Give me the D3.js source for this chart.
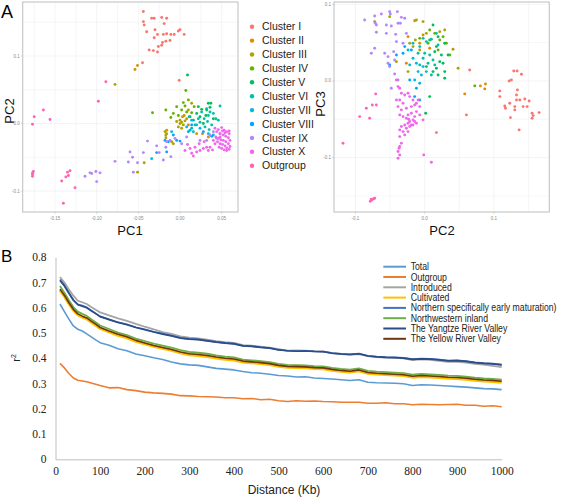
<!DOCTYPE html>
<html><head><meta charset="utf-8">
<script src="https://cdn.jsdelivr.net/npm/d3@7"></script>
<style>body{margin:0;background:#fff}svg{display:block}</style>
</head><body>
<svg id="c" width="567" height="497"></svg>
<script>
// ---------- Panel A data ----------
const clusters = ["Cluster I","Cluster II","Cluster III","Cluster IV","Cluster V","Cluster VI","Cluster VII","Cluster VIII","Cluster IX","Cluster X","Outgroup"];
const clusterColors = ["#F8766D","#DB8E00","#AEA200","#64B200","#00BD5C","#00C1A7","#00BADE","#00A6FF","#B385FF","#EF67EB","#FF63B6"];

// PC1 vs PC2 : [PC1, PC2, cluster index]
const pointsPC1PC2 = [
[-0.044,0.166,0],[-0.044,0.151,0],[-0.043,0.146,0],[-0.034,0.156,0],[-0.031,0.156,0],[-0.022,0.157,0],[-0.016,0.156,0],[-0.019,0.148,0],[-0.040,0.136,0],[-0.030,0.139,0],[-0.027,0.132,0],[-0.020,0.132,0],[-0.016,0.133,0],[-0.011,0.132,0],[-0.007,0.132,0],[-0.002,0.137,0],[0.000,0.139,0],[0.005,0.132,0],[-0.031,0.127,0],[-0.012,0.123,0],[-0.017,0.122,0],[-0.021,0.120,0],[-0.022,0.116,0],[-0.026,0.114,0],[-0.037,0.109,0],[-0.032,0.108,0],[-0.027,0.106,0],[-0.001,0.064,0],[-0.045,0.090,0],
[-0.054,0.080,1],[-0.051,0.086,1],[0.020,-0.015,1],[0.027,-0.015,1],[0.034,-0.020,1],[0.003,0.010,1],[0.008,0.007,1],[-0.016,-0.010,1],[0.010,-0.002,1],
[-0.078,0.058,2],[-0.018,-0.012,2],[-0.017,-0.017,2],[-0.016,-0.015,2],[-0.017,-0.021,2],[0.000,0.000,2],[0.002,0.002,2],[0.004,-0.002,2],[-0.002,-0.005,2],[0.002,-0.007,2],[0.000,0.005,2],[0.006,0.004,2],[-0.010,-0.027,2],[-0.008,-0.030,2],[-0.043,-0.058,2],[-0.051,-0.072,2],[0.005,0.012,2],[-0.004,0.003,2],[0.010,0.020,2],[0.014,0.030,2],
[0.007,0.049,3],[0.010,0.035,3],[-0.004,0.025,3],[-0.017,0.020,3],[-0.008,0.015,3],[0.002,0.020,3],[0.017,0.025,3],[0.014,0.016,3],[0.008,0.017,3],[-0.002,0.012,3],[0.006,0.026,3],[-0.033,0.016,3],[-0.011,0.009,3],[0.004,0.031,3],
[0.009,0.072,4],[0.020,0.015,4],[0.024,0.010,4],[0.032,0.020,4],[0.034,0.030,4],[0.037,0.030,4],[0.031,0.012,4],[0.040,0.007,4],[0.028,0.000,4],[0.016,0.005,4],[0.022,0.025,4],[0.012,0.010,4],[0.036,0.024,4],[0.026,0.021,4],
[0.048,0.026,5],[0.032,0.022,5],[0.036,0.017,5],[0.026,0.017,5],[0.022,0.007,5],[0.029,0.007,5],[0.034,0.012,5],[0.040,0.015,5],[0.024,0.002,5],[0.018,-0.002,5],[0.014,-0.007,5],[0.030,-0.005,5],[0.035,-0.009,5],[0.038,-0.002,5],[0.011,0.010,5],[0.043,0.007,5],[0.046,0.005,5],[0.033,0.003,5],
[-0.034,-0.052,6],[0.012,-0.010,6],[0.016,-0.012,6],[0.024,-0.007,6],[0.020,-0.002,6],[0.008,-0.005,6],[0.034,-0.015,6],[0.040,-0.017,6],[0.014,0.005,6],[-0.010,-0.012,6],
[-0.018,-0.025,7],[-0.014,-0.027,7],[-0.008,-0.017,7],[-0.004,-0.025,7],[0.010,-0.012,7],[0.014,-0.002,7],[0.028,-0.012,7],[0.038,-0.019,7],[0.000,-0.026,7],[-0.028,-0.043,7],[-0.016,-0.042,7],
[-0.114,-0.078,8],[-0.108,-0.073,8],[-0.106,-0.074,8],[-0.101,-0.071,8],[-0.096,-0.073,8],[-0.100,-0.086,8],[-0.078,-0.056,8],[-0.062,-0.057,8],[-0.057,-0.050,8],[-0.060,-0.042,8],[-0.051,-0.058,8],[-0.056,-0.072,8],[-0.044,-0.043,8],[-0.039,-0.026,8],[-0.028,-0.033,8],[-0.025,-0.043,8],[-0.020,-0.054,8],[-0.017,-0.035,8],[-0.011,-0.049,8],[-0.016,-0.027,8],[0.036,-0.017,8],[0.040,-0.012,8],[0.044,-0.022,8],[0.048,-0.015,8],[0.024,-0.025,8],[0.032,-0.025,8],[-0.012,-0.025,8],[-0.006,-0.022,8],[0.002,-0.030,8],[0.008,-0.020,8],
[0.042,-0.007,9],[0.046,-0.009,9],[0.050,-0.006,9],[0.053,-0.010,9],[0.056,-0.012,9],[0.059,-0.015,9],[0.044,-0.012,9],[0.048,-0.015,9],[0.052,-0.017,9],[0.055,-0.019,9],[0.058,-0.021,9],[0.060,-0.025,9],[0.043,-0.020,9],[0.046,-0.022,9],[0.049,-0.024,9],[0.052,-0.025,9],[0.055,-0.027,9],[0.058,-0.030,9],[0.060,-0.034,9],[0.045,-0.027,9],[0.048,-0.030,9],[0.051,-0.031,9],[0.054,-0.033,9],[0.056,-0.036,9],[0.059,-0.038,9],[0.047,-0.035,9],[0.050,-0.037,9],[0.053,-0.039,9],[0.056,-0.040,9],[0.042,-0.030,9],[0.040,-0.025,9],[0.036,-0.035,9],[0.032,-0.035,9],[0.028,-0.037,9],[0.024,-0.040,9],[0.020,-0.042,9],[0.018,-0.035,9],[0.014,-0.044,9],[0.012,-0.037,9],[0.023,-0.030,9],[0.029,-0.027,9],[0.034,-0.040,9],[0.039,-0.039,9],[0.016,-0.048,9],[0.009,-0.031,9],[0.006,-0.040,9],[0.048,-0.020,9],[0.054,-0.014,9],[0.059,-0.011,9],[0.051,-0.011,9],
[-0.164,0.020,10],[-0.175,0.010,10],[-0.156,0.006,10],[-0.177,-0.001,10],[-0.177,-0.073,10],[-0.177,-0.075,10],[-0.177,-0.078,10],[-0.176,-0.071,10],[-0.132,-0.070,10],[-0.135,-0.072,10],[-0.134,-0.077,10],[-0.137,-0.079,10],[-0.142,-0.085,10],[-0.126,-0.095,10],[-0.140,-0.118,10],[-0.089,0.062,10],[-0.098,0.033,10]
];

// PC2 vs PC3 : [PC2, PC3, cluster index]
const pointsPC2PC3 = [
[0.1286,0.0130,0],[0.1334,0.0130,0],[0.1397,0.0087,0],[0.1219,0.0000,0],[0.1252,0.0013,0],[0.1084,-0.0130,0],[0.1084,-0.0204,0],[0.1156,-0.0326,0],[0.1166,-0.0356,0],[0.1228,-0.0291,0],[0.1301,-0.0335,0],[0.1325,-0.0183,0],[0.1325,-0.0248,0],[0.1339,-0.0117,0],[0.1373,-0.0248,0],[0.1445,-0.0235,0],[0.1508,-0.0261,0],[0.1421,-0.0335,0],[0.1479,-0.0335,0],[0.1551,-0.0422,0],[0.1551,-0.0487,0],[0.1566,-0.0452,0],[0.1652,-0.0413,0],[0.1238,-0.0478,0],[0.1363,-0.0639,0],[0.0650,0.0143,0],[0.0602,-0.0443,0],[0.1301,-0.0378,0],[0.0169,-0.0674,0],
[-0.0145,0.0786,1],[-0.0241,0.0578,1],[-0.0072,0.0491,1],[0.0578,-0.0169,1],[0.0804,-0.0065,1],[0.0877,-0.0039,1],[0.0867,-0.0104,1],[-0.0265,0.0230,1],[-0.0024,0.0600,1],[0.0072,0.0426,1],
[-0.0723,0.0774,2],[-0.0506,0.0839,2],[-0.0120,0.0795,2],[-0.0024,0.0774,2],[0.0289,0.0665,2],[0.0217,0.0643,2],[-0.0135,0.0535,2],[-0.0217,0.0491,2],[-0.0072,0.0404,2],[0.0409,0.0413,2],[0.0482,0.0165,2],[-0.0169,0.0448,2],[-0.0409,0.0252,2],[-0.0241,0.0122,2],[0.0024,0.0621,2],
[0.0723,-0.0065,3],[0.0361,0.0339,3],[0.0217,0.0535,3],[0.0072,0.0665,3],[0.0145,0.0621,3],[0.0265,0.0578,3],[0.0193,0.0404,3],[-0.0072,0.0556,3],[0.0048,0.0491,3],[0.0313,0.0491,3],
[0.0120,0.0730,4],[0.0193,0.0578,4],[0.0289,0.0491,4],[0.0169,0.0448,4],[0.0072,0.0535,4],[0.0145,0.0382,4],[0.0241,0.0339,4],[0.0265,0.0230,4],[0.0289,0.0122,4],[0.0289,0.0035,4],[0.0193,0.0078,4],[0.0120,0.0122,4],[0.0072,-0.0204,4],[0.0014,-0.0422,4],[0.0169,0.0165,4],[0.0217,0.0252,4],[0.0337,0.0339,4],[0.0024,0.0187,4],
[-0.0024,0.0556,5],[0.0024,0.0513,5],[0.0096,0.0543,5],[-0.0072,0.0448,5],[0.0000,0.0361,5],[0.0072,0.0339,5],[0.0120,0.0274,5],[0.0048,0.0230,5],[-0.0024,0.0296,5],[-0.0072,0.0209,5],[0.0024,0.0122,5],[0.0096,0.0078,5],[0.0145,0.0209,5],[0.0169,0.0621,5],[-0.0096,0.0361,5],[0.0193,0.0469,5],
[-0.0241,0.0404,6],[-0.0169,0.0296,6],[-0.0120,0.0230,6],[-0.0048,0.0078,6],[-0.0096,0.0122,6],[-0.0145,0.0013,6],[-0.0072,-0.0030,6],[-0.0217,0.0209,6],[-0.0024,0.0187,6],[-0.0169,0.0491,6],
[-0.0506,0.0209,7],[-0.0409,0.0339,7],[-0.0289,0.0448,7],[-0.0193,0.0404,7],[-0.0120,-0.0096,7],[-0.0145,-0.0204,7],[-0.0072,-0.0248,7],[-0.0217,0.0013,7],[-0.0313,0.0361,7],
[-0.0867,0.0795,8],[-0.0723,0.0847,8],[-0.0713,0.0752,8],[-0.0626,0.0874,8],[-0.0506,0.0904,8],[-0.0496,0.0874,8],[-0.0395,0.0904,8],[-0.0337,0.0830,8],[-0.0289,0.0817,8],[-0.0554,0.0730,8],[-0.0482,0.0717,8],[-0.0698,0.0635,8],[-0.0554,0.0621,8],[-0.0419,0.0608,8],[-0.0409,0.0513,8],[-0.0771,0.0361,8],[-0.0723,0.0426,8],[-0.0578,0.0361,8],[-0.0530,0.0230,8],[-0.0506,0.0187,8],[-0.0434,0.0091,8],[-0.0385,0.0013,8],[-0.0482,-0.0096,8],[-0.0448,0.0382,8],[-0.0530,0.0317,8],[-0.0385,0.0752,8],[-0.0352,0.0752,8],[-0.0265,0.0621,8],[-0.0313,0.0491,8],[-0.0434,0.0274,8],[-0.0698,0.0730,8],
[-0.0409,0.0013,9],[-0.0385,-0.0074,9],[-0.0361,-0.0096,9],[-0.0337,-0.0161,9],[-0.0289,-0.0183,9],[-0.0241,-0.0161,9],[-0.0217,-0.0204,9],[-0.0169,-0.0248,9],[-0.0120,-0.0291,9],[-0.0072,-0.0335,9],[-0.0096,-0.0248,9],[-0.0145,-0.0313,9],[-0.0193,-0.0335,9],[-0.0265,-0.0356,9],[-0.0313,-0.0291,9],[-0.0337,-0.0378,9],[-0.0361,-0.0443,9],[-0.0313,-0.0465,9],[-0.0265,-0.0487,9],[-0.0217,-0.0530,9],[-0.0241,-0.0552,9],[-0.0193,-0.0574,9],[-0.0145,-0.0530,9],[-0.0169,-0.0574,9],[-0.0120,-0.0552,9],[-0.0289,-0.0574,9],[-0.0337,-0.0595,9],[-0.0361,-0.0639,9],[-0.0313,-0.0661,9],[-0.0265,-0.0617,9],[-0.0217,-0.0595,9],[-0.0241,-0.0661,9],[-0.0289,-0.0704,9],[-0.0361,-0.0726,9],[-0.0337,-0.0813,9],[-0.0361,-0.0856,9],[-0.0385,-0.0921,9],[-0.0361,-0.0965,9],[-0.0385,-0.1008,9],[-0.0371,-0.0878,9],[-0.0072,-0.0443,9],[-0.0120,-0.0400,9],[-0.0193,-0.0422,9],[-0.0241,-0.0443,9],[-0.0409,-0.0248,9],[-0.0361,-0.0248,9],[-0.0385,-0.0335,9],[-0.0024,-0.0508,9],[-0.0014,-0.0965,9],[0.0096,-0.1060,9],[-0.0169,-0.0508,9],[-0.0231,-0.0500,9],[-0.0145,-0.0465,9],
[-0.1180,-0.0813,10],[-0.0939,-0.0465,10],[-0.0795,-0.0487,10],[-0.0843,-0.0356,10],[-0.0756,-0.0313,10],[-0.0698,-0.0313,10],[-0.0708,-0.0169,10],[-0.0785,-0.1570,10],[-0.0761,-0.1550,10],[-0.0737,-0.1538,10],[-0.0771,-0.1543,10],[-0.0723,-0.1530,10]
];

const pc1Ticks = [-0.15,-0.10,-0.05,0.00,0.05];
const pc1TickLabels = ["-0.15","-0.10","-0.05","0.00","0.05"];
const pc2TicksA = [-0.1,0.0,0.1];
const pc2TickLabelsA = ["-0.1","0.0","0.1"];
const pc2TicksB = [-0.1,0.0,0.1];
const pc2TickLabelsB = ["-0.1","0.0","0.1"];
const pc3Ticks = [-0.1,0.0,0.1];
const pc3TickLabels = ["-0.1","0.0","0.1"];

// ---------- Panel B data ----------
const distances = [10,20,30,40,50,60,70,80,90,100,120,140,160,180,200,220,240,260,280,300,320,340,360,380,400,420,440,460,480,500,520,540,560,580,600,620,640,660,680,700,720,740,760,780,800,820,840,860,880,900,920,940,960,980,1000];
const seriesNames = ["Total","Outgroup","Introduced","Cultivated","Northern specifically early maturation)","Northwestern inland","The Yangtze River Valley","The Yellow River Valley"];
const seriesColors = ["#5B9BD5","#ED7D31","#A5A5A5","#FFC000","#4472C4","#70AD47","#2B4C86","#6E3510"];
const total = [0.615,0.585,0.555,0.528,0.515,0.508,0.497,0.485,0.473,0.462,0.452,0.438,0.430,0.417,0.410,0.402,0.395,0.385,0.378,0.374,0.372,0.366,0.360,0.357,0.354,0.348,0.343,0.341,0.337,0.332,0.330,0.326,0.327,0.322,0.320,0.318,0.315,0.312,0.315,0.305,0.303,0.302,0.301,0.299,0.292,0.295,0.294,0.292,0.290,0.288,0.286,0.283,0.280,0.279,0.276];
const outgroup = [0.380,0.362,0.340,0.322,0.313,0.310,0.307,0.302,0.297,0.292,0.283,0.284,0.276,0.272,0.266,0.263,0.261,0.258,0.252,0.251,0.249,0.248,0.247,0.244,0.244,0.240,0.241,0.236,0.238,0.232,0.229,0.232,0.230,0.231,0.229,0.228,0.226,0.226,0.226,0.222,0.222,0.224,0.220,0.220,0.216,0.218,0.217,0.216,0.217,0.218,0.214,0.214,0.210,0.212,0.208];
const introduced = [0.722,0.700,0.672,0.648,0.628,0.622,0.615,0.603,0.592,0.582,0.570,0.558,0.548,0.536,0.525,0.515,0.504,0.497,0.487,0.482,0.479,0.474,0.468,0.464,0.461,0.452,0.450,0.446,0.442,0.436,0.430,0.431,0.430,0.428,0.427,0.420,0.417,0.414,0.417,0.409,0.405,0.403,0.402,0.400,0.393,0.396,0.394,0.390,0.386,0.386,0.383,0.378,0.375,0.370,0.365];
const cultivated = [0.670,0.645,0.616,0.590,0.572,0.563,0.556,0.543,0.531,0.518,0.504,0.491,0.481,0.467,0.457,0.447,0.439,0.431,0.421,0.414,0.411,0.407,0.401,0.396,0.393,0.385,0.382,0.379,0.375,0.368,0.364,0.363,0.362,0.359,0.358,0.352,0.348,0.345,0.350,0.340,0.337,0.335,0.333,0.331,0.325,0.328,0.326,0.324,0.321,0.320,0.317,0.313,0.310,0.308,0.305];
const northern = [0.712,0.690,0.660,0.632,0.614,0.609,0.602,0.590,0.578,0.566,0.555,0.543,0.535,0.523,0.515,0.505,0.498,0.490,0.481,0.477,0.475,0.470,0.465,0.461,0.458,0.450,0.448,0.444,0.441,0.434,0.430,0.429,0.430,0.428,0.427,0.421,0.418,0.416,0.419,0.410,0.407,0.405,0.404,0.402,0.397,0.399,0.398,0.395,0.391,0.392,0.389,0.384,0.381,0.379,0.375];
const northwestern = [0.686,0.660,0.630,0.603,0.585,0.576,0.568,0.555,0.543,0.530,0.516,0.502,0.492,0.478,0.468,0.458,0.450,0.442,0.432,0.425,0.422,0.418,0.412,0.407,0.404,0.395,0.392,0.389,0.385,0.378,0.374,0.373,0.372,0.369,0.368,0.362,0.358,0.355,0.360,0.350,0.347,0.345,0.343,0.341,0.335,0.338,0.336,0.334,0.331,0.330,0.327,0.323,0.320,0.318,0.315];
const yangtze = [0.708,0.686,0.657,0.630,0.612,0.606,0.600,0.588,0.577,0.565,0.553,0.542,0.533,0.522,0.513,0.504,0.496,0.489,0.480,0.476,0.474,0.469,0.464,0.460,0.457,0.449,0.447,0.443,0.440,0.433,0.430,0.428,0.429,0.427,0.426,0.420,0.417,0.415,0.418,0.409,0.406,0.404,0.403,0.401,0.396,0.398,0.397,0.394,0.390,0.391,0.388,0.383,0.380,0.378,0.374];
const yellowRiver = [0.674,0.649,0.620,0.594,0.576,0.567,0.560,0.547,0.535,0.522,0.508,0.495,0.485,0.471,0.461,0.451,0.443,0.435,0.425,0.418,0.415,0.411,0.405,0.400,0.397,0.389,0.386,0.383,0.379,0.372,0.368,0.367,0.366,0.363,0.362,0.356,0.352,0.349,0.354,0.344,0.341,0.339,0.337,0.335,0.329,0.332,0.330,0.328,0.325,0.324,0.321,0.317,0.314,0.312,0.309];
const xTicksB = [0,100,200,300,400,500,600,700,800,900,1000];
const yTicksB = [0,0.1,0.2,0.3,0.4,0.5,0.6,0.7,0.8];
const yTickLabelsB = ["0","0.1","0.2","0.3","0.4","0.5","0.6","0.7","0.8"];

// ---------- drawing ----------
const svg = d3.select("#c");
const SANS = "'Liberation Sans', Arial, sans-serif";
const SERIF = "'Liberation Serif', 'Times New Roman', serif";

function scatterPanel(opts){
  const {x, y, pts, xt, xtl, yt, ytl, xMinor, yMinor} = opts;
  const [x0,x1] = x.range(), [y0,y1] = y.range();
  const g = svg.append("g");
  g.selectAll(".gmx").data(xMinor).join("line").attr("x1",d=>x(d)).attr("x2",d=>x(d)).attr("y1",y0).attr("y2",y1).attr("stroke","#f0f0f0").attr("stroke-width",0.6);
  g.selectAll(".gmy").data(yMinor).join("line").attr("y1",d=>y(d)).attr("y2",d=>y(d)).attr("x1",x0).attr("x2",x1).attr("stroke","#f0f0f0").attr("stroke-width",0.6);
  g.selectAll(".gx").data(xt).join("line").attr("x1",d=>x(d)).attr("x2",d=>x(d)).attr("y1",y0).attr("y2",y1).attr("stroke","#ececec").attr("stroke-width",0.6);
  g.selectAll(".gy").data(yt).join("line").attr("y1",d=>y(d)).attr("y2",d=>y(d)).attr("x1",x0).attr("x2",x1).attr("stroke","#ececec").attr("stroke-width",0.6);
  g.selectAll("circle").data(pts).join("circle")
    .attr("cx",d=>x(d[0])).attr("cy",d=>y(d[1])).attr("r",1.45)
    .attr("fill",d=>clusterColors[d[2]]);
  g.append("rect").attr("x",x0).attr("y",y1).attr("width",x1-x0).attr("height",y0-y1)
    .attr("fill","none").attr("stroke","#c4c4c4").attr("stroke-width",1.1);
  g.selectAll(".tx").data(xt).join("line").attr("x1",d=>x(d)).attr("x2",d=>x(d)).attr("y1",y0).attr("y2",y0+2).attr("stroke","#bbb").attr("stroke-width",0.5);
  g.selectAll(".ty").data(yt).join("line").attr("y1",d=>y(d)).attr("y2",d=>y(d)).attr("x1",x0-2).attr("x2",x0).attr("stroke","#bbb").attr("stroke-width",0.5);
  g.selectAll(".lx").data(xt).join("text").attr("x",d=>x(d)).attr("y",y0+8).attr("text-anchor","middle")
    .attr("font-family",SANS).attr("font-size",4.5).attr("fill","#8a8a8a").text((d,i)=>xtl[i]);
  g.selectAll(".ly").data(yt).join("text").attr("x",x0-3).attr("y",d=>y(d)+1.5).attr("text-anchor","end")
    .attr("font-family",SANS).attr("font-size",4.5).attr("fill","#8a8a8a").text((d,i)=>ytl[i]);
  return g;
}

const xA = d3.scaleLinear().domain([-0.1888,0.0696]).range([22.7,238]);
const yA = d3.scaleLinear().domain([-0.131,0.180]).range([212,2]);
scatterPanel({x:xA,y:yA,pts:pointsPC1PC2,xt:pc1Ticks,xtl:pc1TickLabels,yt:pc2TicksA,ytl:pc2TickLabelsA,
  xMinor:[-0.175,-0.125,-0.075,-0.025,0.025],yMinor:[-0.05,0.05,0.15]});

const xB = d3.scaleLinear().domain([-0.131,0.1799]).range([334,549.3]);
const yB = d3.scaleLinear().domain([-0.171,0.103]).range([212,2]);
scatterPanel({x:xB,y:yB,pts:pointsPC2PC3,xt:pc2TicksB,xtl:pc2TickLabelsB,yt:pc3Ticks,ytl:pc3TickLabels,
  xMinor:[-0.05,0.05,0.15],yMinor:[-0.15,-0.05,0.05]});

svg.append("text").attr("x",130).attr("y",235).attr("text-anchor","middle").attr("font-family",SANS).attr("font-size",13).attr("fill","#111").text("PC1");
svg.append("text").attr("transform","translate(14,111) rotate(-90)").attr("text-anchor","middle").attr("font-family",SANS).attr("font-size",13).attr("fill","#111").text("PC2");
svg.append("text").attr("x",442).attr("y",235).attr("text-anchor","middle").attr("font-family",SANS).attr("font-size",13).attr("fill","#111").text("PC2");
svg.append("text").attr("transform","translate(325,104) rotate(-90)").attr("text-anchor","middle").attr("font-family",SANS).attr("font-size",13).attr("fill","#111").text("PC3");

const legA = svg.append("g");
legA.selectAll("circle").data(clusters).join("circle").attr("cx",252).attr("cy",(d,i)=>26.7+i*13.9).attr("r",2.2).attr("fill",(d,i)=>clusterColors[i]);
legA.selectAll("text").data(clusters).join("text").attr("x",262).attr("y",(d,i)=>26.7+i*13.9+3.6)
  .attr("font-family",SANS).attr("font-size",10.5).attr("fill","#222").text(d=>d);

svg.append("text").attr("x",1).attr("y",18).attr("font-family",SANS).attr("font-size",18).attr("fill","#000").text("A");
svg.append("text").attr("x",1).attr("y",262).attr("font-family",SANS).attr("font-size",17).attr("fill","#000").text("B");

// ---------- LD decay chart ----------
const xL = d3.scaleLinear().domain([0,1000]).range([55.5,501.7]);
const yL = d3.scaleLinear().domain([0,0.8]).range([459.3,257.3]);
const gL = svg.append("g");
const ax = gL.append("g").attr("transform","translate(0,459.3)").call(d3.axisBottom(xL).tickValues(xTicksB).tickSize(0).tickPadding(8).tickFormat(d3.format("d")));
const ay = gL.append("g").attr("transform","translate(55.5,0)").call(d3.axisLeft(yL).tickValues(yTicksB).tickSize(0).tickPadding(9).tickFormat((d,i)=>yTickLabelsB[i]));
[ax,ay].forEach(a=>{
  a.select(".domain").attr("stroke","#bfbfbf").attr("stroke-width",1);
  a.selectAll("text").attr("font-family",SERIF).attr("font-size",11.5).attr("fill","#222");
});

const allSeries = [total,outgroup,introduced,cultivated,northern,northwestern,yangtze,yellowRiver];
const widths = [1.6,1.6,1.8,2.8,1.6,1.8,1.7,1.6];
const line = d3.line().x((d,i)=>xL(distances[i])).y(d=>yL(d));
allSeries.forEach((s,k)=>{
  gL.append("path").datum(s).attr("d",line).attr("fill","none").attr("stroke",seriesColors[k])
    .attr("stroke-width",widths[k]).attr("stroke-linejoin","round");
});

svg.append("text").attr("x",284).attr("y",494).attr("text-anchor","middle").attr("font-family",SANS).attr("font-size",12).attr("fill","#222").text("Distance (Kb)");
const rt = svg.append("text").attr("transform","translate(20,358) rotate(-90)").attr("text-anchor","middle").attr("font-family",SANS).attr("font-size",11).attr("fill","#222");
rt.append("tspan").text("r");
rt.append("tspan").attr("dy",-4).attr("font-size",7).text("2");

// legend B
const legB = svg.append("g");
legB.selectAll("line").data(seriesNames).join("line").attr("x1",383.3).attr("x2",406).attr("y1",(d,i)=>266.7+i*10.3).attr("y2",(d,i)=>266.7+i*10.3)
  .attr("stroke",(d,i)=>seriesColors[i]).attr("stroke-width",2);
legB.selectAll("text").data(seriesNames).join("text")
  .attr("transform",(d,i)=>`translate(410.7,${266.7+i*10.3+3.5}) scale(0.87,1)`)
  .attr("font-family",SANS).attr("font-size",10).attr("fill","#222").text(d=>d);
</script>
</body></html>
